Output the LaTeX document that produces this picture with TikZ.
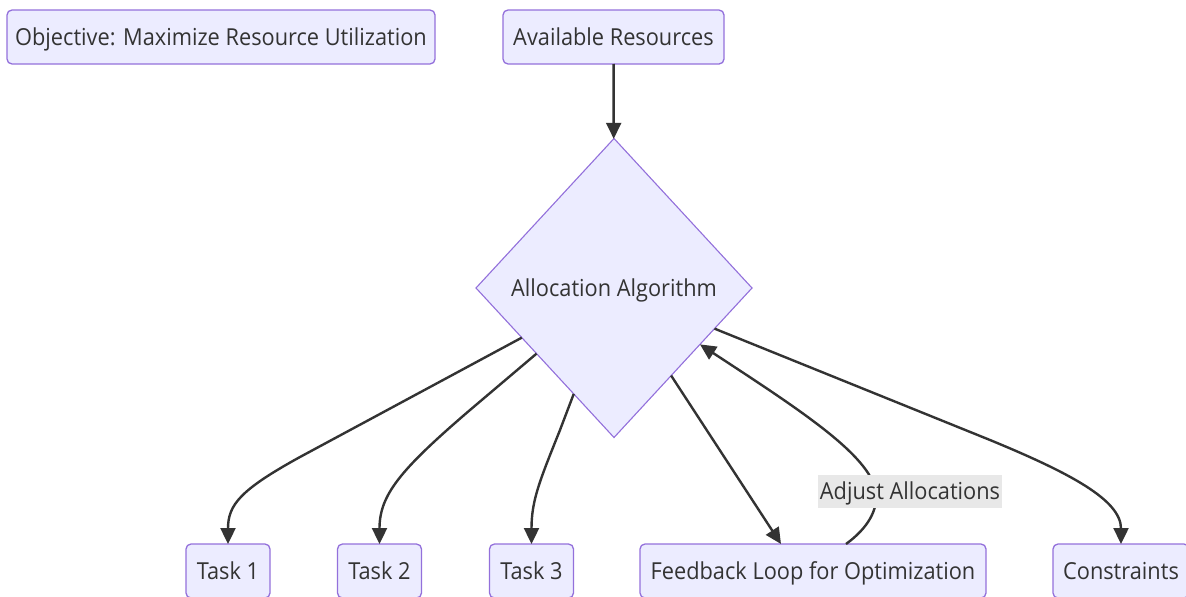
\documentclass[tikz,border=0pt]{standalone}
\usepackage{fontspec}
\setmainfont{Open Sans}[FakeStretch=0.93]
\usetikzlibrary{shapes.geometric,arrows.meta}
\definecolor{nodefill}{HTML}{ECECFF}
\definecolor{nodeline}{HTML}{9370DB}
\definecolor{ink}{HTML}{333333}
\definecolor{labelbg}{HTML}{E8E8E8}
\tikzset{
  txt/.style={text=ink, font=\fontsize{23.4}{28}\selectfont},
  box/.style={txt, draw=nodeline, fill=nodefill, line width=1.3pt, rounded corners=5pt,
    minimum height=54pt, inner sep=0pt, outer sep=0pt,
    text height=17pt, text depth=1pt},
  decision/.style={txt, diamond, draw=nodeline, fill=nodefill, line width=1.1pt,
    minimum width=276pt, minimum height=299pt, inner sep=0pt, outer sep=0pt,
    text height=17pt, text depth=1pt},
  edgelabel/.style={txt, fill=labelbg, inner xsep=1.5pt, inner ysep=1.5pt,
    text height=23pt, text depth=7pt},
  link/.style={draw=ink, line width=2.4pt, -{Triangle[length=16pt,width=15pt]}}
}
\begin{document}
\begin{tikzpicture}[x=1pt,y=-1pt]
\useasboundingbox (0,0) rectangle (1186,597);

% top row
\node[box, minimum width=428pt] (obj) at (221,37) {Objective: Maximize Resource Utilization};
\node[box, minimum width=221pt] (res) at (613.5,37) {Available Resources};

% central decision
\node[decision] (alg) at (614,288) {Allocation Algorithm};

% bottom row
\node[box, minimum width=84pt] (t1) at (228,571) {Task 1};
\node[box, minimum width=84pt] (t2) at (379.5,571) {Task 2};
\node[box, minimum width=84pt] (t3) at (531.5,571) {Task 3};
\node[box, minimum width=346pt] (fb) at (813,571) {Feedback Loop for Optimization};
\node[box, minimum width=136pt] (con) at (1121,571) {Constraints};

% connector ends on the feedback box
\coordinate (fbin) at (781,544);
\coordinate (fbout) at (846,544);

% connectors
\draw[link] (res) -- (alg);
\draw[link] (alg) -- (300,457) .. controls (240,490) and (228,505) .. (t1.north);
\draw[link] (alg) -- (470,410) .. controls (400,470) and (379.5,495) .. (t2.north);
\draw[link] (alg) -- (560,430) .. controls (540,480) and (531.5,500) .. (t3.north);
\draw[link] (alg) -- (fbin);
\draw[link] (fbout) .. controls (868,528) and (878,510) .. (876,492)
  .. controls (870,455) and (800,410) .. (alg);
\draw[link] (alg) -- (990,440) .. controls (1070,473) and (1121,500) .. (con.north);

% feedback label
\node[edgelabel] (adj) at (910,491.5) {Adjust Allocations};
\end{tikzpicture}
\end{document}
